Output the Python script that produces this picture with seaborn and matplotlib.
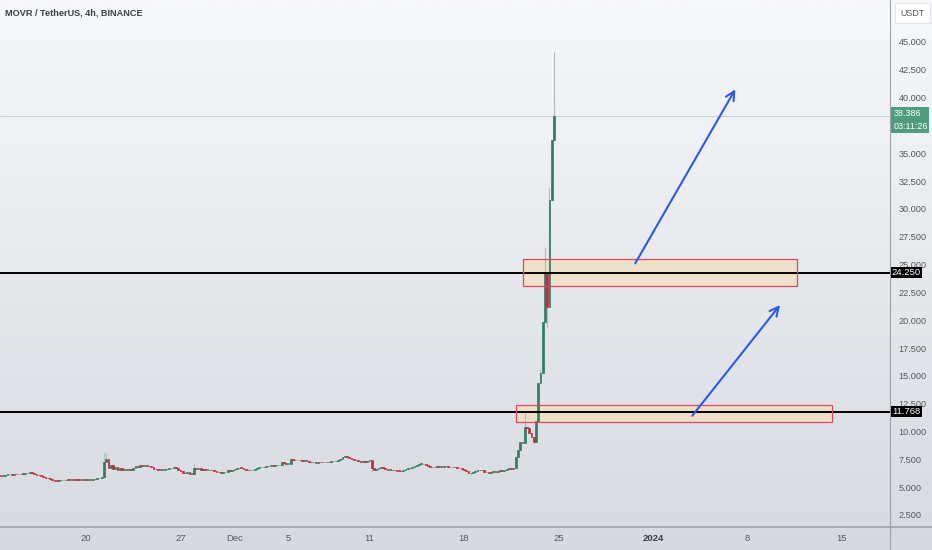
import pandas as pd
import numpy as np
import matplotlib
matplotlib.use('Agg')
import matplotlib.pyplot as plt
import matplotlib.dates as mdates
from matplotlib.patches import Rectangle
from matplotlib.lines import Line2D
from matplotlib.colors import LinearSegmentedColormap
import seaborn as sns

# 4h closes, one row per day (Nov 13 starts at 12:00, Dec 24 ends at 16:00)
first_open = 6.02
closes = [
    6.05, 6.00, 6.02,                      # Nov 13
    6.10, 6.15, 6.18, 6.12, 6.20, 6.17,    # Nov 14
    6.15, 6.22, 6.20, 6.25, 6.30, 6.32,    # Nov 15
    6.28, 6.20, 6.12, 6.05, 5.98, 5.94,    # Nov 16
    5.85, 5.78, 5.70, 5.62, 5.58, 5.55,    # Nov 17
    5.62, 5.65, 5.60, 5.66, 5.64, 5.67,    # Nov 18
    5.65, 5.68, 5.66, 5.64, 5.67, 5.66,    # Nov 19
    5.68, 5.70, 5.66, 5.72, 5.75, 5.80,    # Nov 20
    5.82, 5.95, 7.30, 7.50, 6.74, 6.95,    # Nov 21
    6.60, 6.85, 6.55, 6.70, 6.58, 6.60,    # Nov 22
    6.55, 6.62, 6.58, 6.75, 6.90, 6.85,    # Nov 23
    6.95, 6.90, 6.95, 6.88, 6.92, 6.80,    # Nov 24
    6.65, 6.60, 6.55, 6.62, 6.58, 6.62,    # Nov 25
    6.65, 6.70, 6.68, 6.80, 6.75, 6.50,    # Nov 26
    6.45, 6.30, 6.25, 6.35, 6.18, 6.22,    # Nov 27
    6.70, 6.65, 6.70, 6.58, 6.60, 6.55,    # Nov 28
    6.58, 6.52, 6.50, 6.45, 6.40, 6.35,    # Nov 29
    6.30, 6.33, 6.38, 6.52, 6.48, 6.55,    # Nov 30
    6.62, 6.70, 6.74, 6.72, 6.60, 6.55,    # Dec 1
    6.50, 6.52, 6.58, 6.62, 6.70, 6.78,    # Dec 2
    6.80, 6.85, 6.88, 6.92, 6.95, 6.90,    # Dec 3
    6.95, 7.00, 6.98, 7.30, 7.18, 7.10,    # Dec 4
    7.12, 7.50, 7.48, 7.42, 7.45, 7.40,    # Dec 5
    7.38, 7.42, 7.35, 7.28, 7.22, 7.25,    # Dec 6
    7.20, 7.22, 7.26, 7.23, 7.28, 7.25,    # Dec 7
    7.30, 7.35, 7.32, 7.38, 7.45, 7.55,    # Dec 8
    7.70, 7.82, 7.72, 7.60, 7.50, 7.45,    # Dec 9
    7.40, 7.35, 7.28, 7.32, 7.30, 7.38,    # Dec 10
    7.40, 6.70, 6.55, 6.60, 6.72, 6.78,    # Dec 11
    6.70, 6.62, 6.55, 6.58, 6.50, 6.52,    # Dec 12
    6.48, 6.45, 6.42, 6.55, 6.62, 6.70,    # Dec 13
    6.74, 6.85, 6.92, 7.00, 7.08, 7.10,    # Dec 14
    7.05, 6.98, 6.92, 6.85, 6.80, 6.83,    # Dec 15
    6.82, 6.86, 6.84, 6.88, 6.90, 6.85,    # Dec 16
    6.80, 6.82, 6.78, 6.74, 6.70, 6.65,    # Dec 17
    6.55, 6.45, 6.30, 6.25, 6.38, 6.45,    # Dec 18
    6.52, 6.50, 6.55, 6.40, 6.32, 6.30,    # Dec 19
    6.35, 6.42, 6.40, 6.45, 6.50, 6.48,    # Dec 20
    6.55, 6.60, 6.68, 6.62, 6.70, 7.75,    # Dec 21
    8.30, 9.10, 9.00, 10.40, 10.30, 9.90,  # Dec 22
    9.50, 9.10, 10.90, 14.35, 15.30, 19.80,  # Dec 23
    24.30, 21.20, 30.80, 36.20, 38.386,    # Dec 24
]

# visible wicks
wick_highs = {
    '2023-11-21 08:00': 8.05, '2023-11-21 12:00': 8.10, '2023-11-28 00:00': 7.10,
    '2023-12-05 04:00': 7.65, '2023-12-22 12:00': 11.65, '2023-12-23 16:00': 15.60,
    '2023-12-24 00:00': 26.60, '2023-12-24 08:00': 31.90, '2023-12-24 16:00': 44.10,
}
wick_lows = {
    '2023-12-11 04:00': 6.35, '2023-12-18 12:00': 6.10, '2023-12-23 04:00': 8.95,
    '2023-12-24 04:00': 19.40,
}

last_price = 38.386
levels = [24.250, 11.768]
zones = [('2023-12-22 09:00', '2024-01-11 16:00', 23.09, 25.52),
         ('2023-12-21 20:00', '2024-01-14 06:00', 10.87, 12.40)]
arrows = [('2023-12-30 14:00', 24.89, '2024-01-07 05:00', 40.97),
          ('2024-01-03 19:00', 11.23, '2024-01-10 13:00', 21.56)]
y_ticks = [2.5 * k for k in range(1, 19)]
x_tick_dates = ['2023-11-20', '2023-11-27', '2023-12-01', '2023-12-05', '2023-12-11',
                '2023-12-18', '2023-12-25', '2024-01-01', '2024-01-08', '2024-01-15']
x_tick_labels = ['20', '27', 'Dec', '5', '11', '18', '25', '2024', '8', '15']

sns.set_theme(style='white')
plt.rcParams['font.family'] = ['Liberation Sans', 'DejaVu Sans']

df = pd.DataFrame({'time': pd.date_range('2023-11-13 12:00', periods=len(closes), freq='4h'),
                   'close': closes})
df['open'] = [first_open] + closes[:-1]
df['high'] = df[['open', 'close']].max(axis=1)
df['low'] = df[['open', 'close']].min(axis=1)
for t, v in wick_highs.items():
    df.loc[df['time'] == pd.Timestamp(t), 'high'] = v
for t, v in wick_lows.items():
    df.loc[df['time'] == pd.Timestamp(t), 'low'] = v
df['x'] = mdates.date2num(df['time'])

W, H = 932, 550
fig = plt.figure(figsize=(W / 100, H / 100), dpi=100)

# background gradient
bg = fig.add_axes([0, 0, 1, 1], zorder=-5)
cmap = LinearSegmentedColormap.from_list('bg', ['#d6d9df', '#f7f8fa'])
bg.imshow(np.linspace(0, 1, 256).reshape(-1, 1), aspect='auto', cmap=cmap,
          origin='lower', extent=[0, 1, 0, 1])
bg.axis('off')

ax = fig.add_axes([0, 23 / H, 890 / W, 527 / H])
ax.set_facecolor('none')
for s in ax.spines.values():
    s.set_visible(False)

green, red = '#2f7d62', '#c0283e'
colors = np.where(df['close'] >= df['open'], green, red)
ax.vlines(df['x'], df['low'], df['high'], color='#b5b8bd', lw=0.8, zorder=3)
body = (df['close'] - df['open']).abs().clip(lower=0.05)
ax.bar(df['x'], body, bottom=df[['open', 'close']].min(axis=1), width=0.12,
       color=colors, edgecolor=colors, linewidth=0.5, zorder=4)

ax.axhline(last_price, color='#cfd2d6', lw=0.8, zorder=1)
for lv in levels:
    ax.axhline(lv, color='black', lw=1.4, zorder=5)

for x0, x1, y0, y1 in zones:
    a, b = mdates.date2num(pd.Timestamp(x0)), mdates.date2num(pd.Timestamp(x1))
    ax.add_patch(Rectangle((a, y0), b - a, y1 - y0, facecolor='#f1dfc2', alpha=0.75,
                           edgecolor='none', zorder=2))
    ax.add_patch(Rectangle((a, y0), b - a, y1 - y0, facecolor='none',
                           edgecolor='#e3475f', lw=0.9, zorder=6))

for x0, y0, x1, y1 in arrows:
    ax.annotate('', xy=(mdates.date2num(pd.Timestamp(x1)), y1),
                xytext=(mdates.date2num(pd.Timestamp(x0)), y0),
                arrowprops=dict(arrowstyle='->', color='#2a5be8', lw=1.5,
                                mutation_scale=16), zorder=7)

ax.set_xlim(mdates.date2num(pd.Timestamp('2023-11-13 15:00')),
            mdates.date2num(pd.Timestamp('2024-01-18 13:30')))
ax.set_ylim(1.42, 48.77)

ax.yaxis.tick_right()
ax.set_yticks(y_ticks)
ax.set_yticklabels([f'{v:.3f}' for v in y_ticks])
ax.set_xticks(mdates.date2num(pd.to_datetime(x_tick_dates)))
ax.set_xticklabels(x_tick_labels)
ax.tick_params(axis='y', length=0, pad=6, labelsize=6.6, labelcolor='#555a60')
ax.tick_params(axis='x', length=0, pad=5, labelsize=6.8, labelcolor='#555a60')
for lab in ax.get_xticklabels():
    if lab.get_text() == '2024':
        lab.set_fontweight('bold')
        lab.set_color('#3a3e44')
ax.grid(False)

# separators
fig.add_artist(Line2D([890 / W, 890 / W], [0, 1], color='#9da1a8', lw=0.8))
fig.add_artist(Line2D([0, 1], [23 / H, 23 / H], color='#9da1a8', lw=1.2))

fig.text(5 / W, 1 - 13 / H, 'MOVR / TetherUS, 4h, BINANCE', fontsize=6.6,
         fontweight='bold', color='#3b3f45', va='center', ha='left')


def label_box(px0, py0, px1, py1, color):
    fig.add_artist(Rectangle((px0 / W, 1 - py1 / H), (px1 - px0) / W, (py1 - py0) / H,
                             transform=fig.transFigure, facecolor=color,
                             edgecolor='none', zorder=10))


# USDT box
fig.add_artist(Rectangle((895 / W, 1 - 23 / H), 35 / W, 20 / H, transform=fig.transFigure,
                         facecolor='white', edgecolor='#e3e5e8', lw=0.8, zorder=10))
fig.text(912 / W, 1 - 13 / H, 'USDT', fontsize=6.4, color='#555a60', ha='center',
         va='center', zorder=11)

# level labels
for lv in levels:
    py = 542.8 - lv * 11.129
    label_box(891, py - 5.5, 922, py + 5.5, 'black')
    fig.text(906.5 / W, 1 - py / H, f'{lv:.3f}', fontsize=6.8, color='white',
             ha='center', va='center', zorder=11)

# last price label
label_box(891, 107, 929, 133, '#4f9d7e')
fig.text(894 / W, 1 - 113.5 / H, f'{last_price:.3f}', fontsize=6.4, color='white',
         ha='left', va='center', zorder=11)
fig.text(894 / W, 1 - 126.5 / H, '03:11:26', fontsize=6.4, color='white',
         ha='left', va='center', zorder=11)

fig.savefig('out.png', dpi=100)
